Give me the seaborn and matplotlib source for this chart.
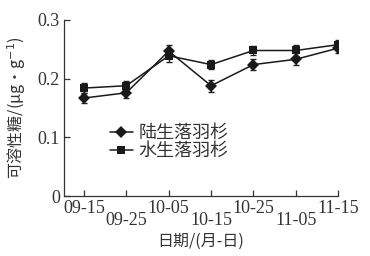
import matplotlib
matplotlib.use("Agg")
import matplotlib.pyplot as plt
import seaborn as sns
import pandas as pd
import numpy as np

dates = ["09-15", "09-25", "10-05", "10-15", "10-25", "11-05", "11-15"]
land = [0.167, 0.176, 0.247, 0.188, 0.224, 0.233, 0.252]
land_err = [0.008, 0.009, 0.010, 0.010, 0.010, 0.010, 0.009]
water = [0.184, 0.188, 0.239, 0.224, 0.248, 0.248, 0.258]
water_err = [0.009, 0.008, 0.011, 0.008, 0.008, 0.009, 0.008]
series_names = ["陆生落羽杉", "水生落羽杉"]

sns.set_theme(style="ticks")
plt.rcParams['font.family'] = ['Liberation Serif', 'Noto Sans CJK SC', 'DejaVu Sans']
txt = "#333333"

x = np.arange(len(dates))
df = pd.DataFrame({
    "x": np.concatenate([x, x]),
    "y": land + water,
    "s": [series_names[0]] * len(x) + [series_names[1]] * len(x),
})

fig = plt.figure(figsize=(3.7, 2.56), dpi=100)
ax = fig.add_axes([0.173, 0.234, 0.741, 0.688])

for vals, errs in ((land, land_err), (water, water_err)):
    ax.errorbar(x, vals, yerr=errs, fmt="none", ecolor="#222222", elinewidth=1.0, capsize=2.5, capthick=1.0, zorder=2)

sns.lineplot(data=df, x="x", y="y", hue="s", style="s",
             markers={series_names[0]: "D", series_names[1]: "s"},
             dashes=False, palette={series_names[0]: "#1a1a1a", series_names[1]: "#1a1a1a"},
             markersize=6, linewidth=1.1, markeredgewidth=0, ax=ax, zorder=3, legend=True)

ax.set_xlim(-0.47, 6)
ax.set_ylim(0, 0.3)
ax.set_yticks([0, 0.1, 0.2, 0.3])
ax.set_yticklabels(["0", "0.1", "0.2", "0.3"])
ax.set_xticks(x)
ax.set_xticklabels(dates)
for i, lab in enumerate(ax.get_xticklabels()):
    if i % 2 == 1:
        lab.set_y(-0.065)
ax.tick_params(direction="in", length=4, width=0.9, colors="#333333", labelsize=13, labelcolor=txt, pad=3)
for sp in ("top", "right"):
    ax.spines[sp].set_visible(False)
for sp in ("left", "bottom"):
    ax.spines[sp].set_color("#333333")
    ax.spines[sp].set_linewidth(0.9)

ax.set_xlabel("日期/(月-日)", fontsize=11.5, color=txt, labelpad=3,
              family=['Noto Sans CJK SC', 'DejaVu Sans'])
ax.set_ylabel("可溶性糖/(μg·g$^{-1}$)", fontsize=11.5, color=txt, labelpad=7,
              family=['Noto Sans CJK SC', 'DejaVu Sans'])

leg = ax.legend(loc="upper left", bbox_to_anchor=(0.14, 0.45), frameon=False,
                handlelength=1.3, handletextpad=0.3, labelspacing=0.0,
                prop={'family': ['Noto Sans CJK SC', 'DejaVu Sans'], 'size': 13},
                borderaxespad=0)
for t in leg.get_texts():
    t.set_color(txt)

fig.savefig("out.png", dpi=100)
